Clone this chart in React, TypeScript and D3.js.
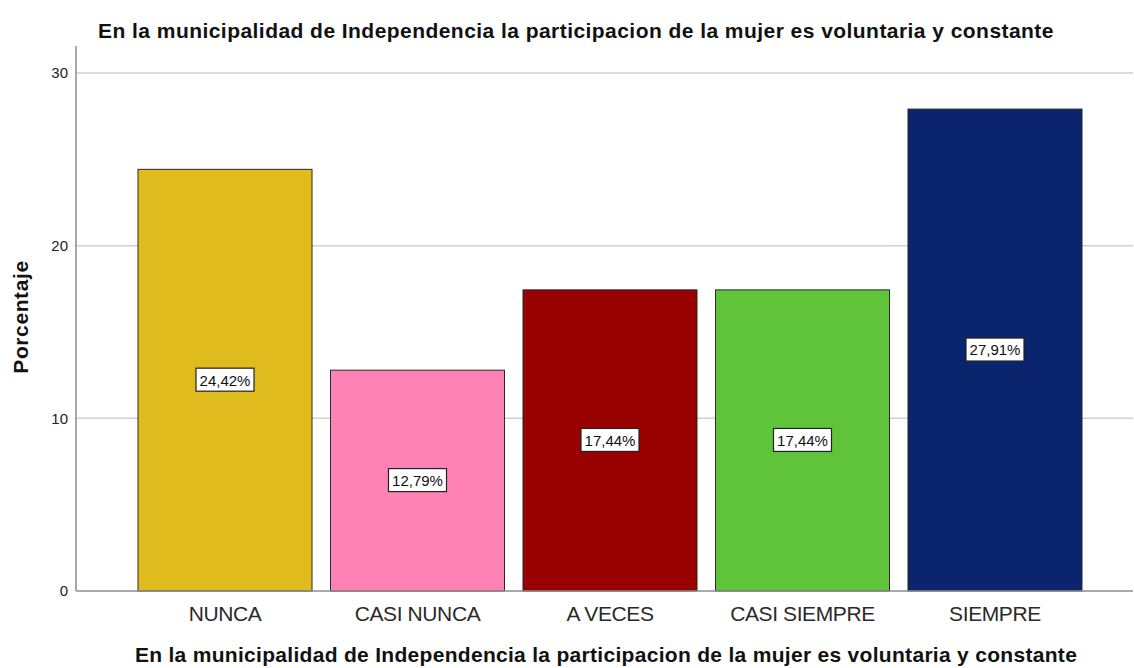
import React, { useRef, useEffect } from "react";
import * as d3 from "d3";

const categories = ["NUNCA", "CASI NUNCA", "A VECES", "CASI SIEMPRE", "SIEMPRE"];
const percentages = [24.42, 12.79, 17.44, 17.44, 27.91];
const barColors = ["#e0bb1e", "#ff82b4", "#990000", "#5fc43a", "#0a246e"];
const yTicks = [0, 10, 20, 30];
const titleText =
  "En la municipalidad de Independencia la participacion de la mujer es voluntaria y constante";

const App = () => {
  const svgRef = useRef<SVGSVGElement | null>(null);

  useEffect(() => {
    document.body.style.margin = "0";
    if (!svgRef.current) return;

    const width = 1134;
    const height = 668;
    const font = "'Liberation Sans', Arial, sans-serif";

    const svg = d3.select(svgRef.current);
    svg.selectAll("*").remove();
    svg.attr("width", width).attr("height", height).style("font-family", font);

    const axisX = 76;
    const plotRight = 1133;

    // Scales
    const x = d3
      .scaleBand()
      .domain(categories)
      .range([138, 1082])
      .paddingInner(0.096)
      .paddingOuter(0);

    const y = d3.scaleLinear().domain([0, 30]).range([591, 73]);

    // Grid lines
    svg
      .append("g")
      .selectAll("line")
      .data(yTicks.filter((t) => t > 0))
      .enter()
      .append("line")
      .attr("x1", axisX)
      .attr("x2", plotRight)
      .attr("y1", (d) => y(d))
      .attr("y2", (d) => y(d))
      .attr("stroke", "#cfcfcf")
      .attr("stroke-width", 1.5);

    // Bars
    svg
      .append("g")
      .selectAll("rect")
      .data(percentages)
      .enter()
      .append("rect")
      .attr("x", (d, i) => x(categories[i]) as number)
      .attr("y", (d) => y(d))
      .attr("width", x.bandwidth())
      .attr("height", (d) => y(0) - y(d))
      .attr("fill", (d, i) => barColors[i])
      .attr("stroke", "#2a2a2a")
      .attr("stroke-width", 1);

    // Axes lines
    svg
      .append("line")
      .attr("x1", axisX)
      .attr("x2", axisX)
      .attr("y1", 46)
      .attr("y2", y(0))
      .attr("stroke", "#8c8c8c")
      .attr("stroke-width", 1.5);

    svg
      .append("line")
      .attr("x1", axisX)
      .attr("x2", plotRight)
      .attr("y1", y(0))
      .attr("y2", y(0))
      .attr("stroke", "#8c8c8c")
      .attr("stroke-width", 1.5);

    // Y tick labels
    svg
      .append("g")
      .selectAll("text")
      .data(yTicks)
      .enter()
      .append("text")
      .attr("x", 68)
      .attr("y", (d) => y(d))
      .attr("dy", "0.35em")
      .attr("text-anchor", "end")
      .attr("font-size", "15px")
      .attr("fill", "#222")
      .text((d) => d);

    // Category labels
    svg
      .append("g")
      .selectAll("text")
      .data(categories)
      .enter()
      .append("text")
      .attr("x", (d) => (x(d) as number) + x.bandwidth() / 2)
      .attr("y", 621)
      .attr("text-anchor", "middle")
      .attr("font-size", "21px")
      .attr("letter-spacing", "-0.4px")
      .attr("fill", "#2a2a2a")
      .text((d) => d);

    // Value labels in boxes
    const labels = svg
      .append("g")
      .selectAll("g")
      .data(percentages)
      .enter()
      .append("g")
      .attr(
        "transform",
        (d, i) =>
          `translate(${(x(categories[i]) as number) + x.bandwidth() / 2},${y(d / 2)})`
      );

    labels
      .append("rect")
      .attr("x", -29)
      .attr("y", -12)
      .attr("width", 58)
      .attr("height", 23)
      .attr("fill", "#fff")
      .attr("stroke", "#222")
      .attr("stroke-width", 1.2);

    labels
      .append("text")
      .attr("text-anchor", "middle")
      .attr("dy", "0.36em")
      .attr("font-size", "15px")
      .attr("fill", "#111")
      .text((d) => d.toFixed(2).replace(".", ",") + "%");

    // Titles
    svg
      .append("text")
      .attr("x", 576)
      .attr("y", 38)
      .attr("text-anchor", "middle")
      .attr("font-size", "21px")
      .attr("letter-spacing", "0.45px")
      .attr("font-weight", "bold")
      .attr("fill", "#111")
      .text(titleText);

    svg
      .append("text")
      .attr("x", 606)
      .attr("y", 662)
      .attr("text-anchor", "middle")
      .attr("font-size", "21px")
      .attr("letter-spacing", "0.3px")
      .attr("font-weight", "bold")
      .attr("fill", "#111")
      .text(titleText);

    svg
      .append("text")
      .attr("transform", `translate(28,${317}) rotate(-90)`)
      .attr("text-anchor", "middle")
      .attr("font-size", "21px")
      .attr("letter-spacing", "0.6px")
      .attr("font-weight", "bold")
      .attr("fill", "#111")
      .text("Porcentaje");
  }, []);

  return <svg ref={svgRef} style={{ display: "block" }}></svg>;
};

export default App;
